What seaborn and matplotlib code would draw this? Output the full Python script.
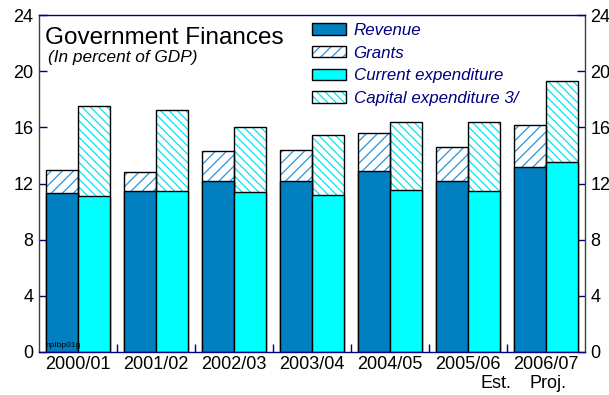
import matplotlib
matplotlib.use("Agg")
import matplotlib.pyplot as plt
import matplotlib.patches as mpatches
from matplotlib.ticker import FixedLocator
from matplotlib.legend_handler import HandlerTuple
import seaborn as sns
import pandas as pd

# Fiscal years and series, in percent of GDP
years = ["2000/01", "2001/02", "2002/03", "2003/04", "2004/05", "2005/06", "2006/07"]
revenue = [11.35, 11.5, 12.2, 12.15, 12.9, 12.2, 13.2]
grants = [1.6, 1.35, 2.1, 2.25, 2.7, 2.4, 3.0]
current_exp = [11.1, 11.5, 11.4, 11.2, 11.55, 11.5, 13.5]
capital_exp = [6.45, 5.7, 4.6, 4.25, 4.85, 4.85, 5.8]
y_ticks = [0, 4, 8, 12, 16, 20, 24]
year_notes = {5: "Est.", 6: "Proj."}

REV_COLOR = "#0080C0"
CUR_COLOR = "#00FFFF"
GRANT_HATCH = "#2A93D8"
CAP_HATCH = "#00E6F2"
NAVY = "#000080"

sns.set_theme(style="white")
plt.rcParams["font.family"] = ["Liberation Sans", "DejaVu Sans"]
plt.rcParams["hatch.linewidth"] = 0.9

sides = ["Receipts", "Outlays"]
df = pd.DataFrame({
    "year": years * 2,
    "side": [sides[0]] * len(years) + [sides[1]] * len(years),
    "base": revenue + current_exp,
    "total": [r + g for r, g in zip(revenue, grants)]
             + [c + k for c, k in zip(current_exp, capital_exp)],
})

fig = plt.figure(figsize=(6.09, 3.95), dpi=100)
ax = fig.add_axes([39 / 609, 43 / 395, 546 / 609, 337 / 395])

common = dict(data=df, x="year", hue="side", hue_order=sides, order=years,
              width=0.81, gap=0, errorbar=None, legend=False, ax=ax, saturation=1)

# Hatched upper segments (grants, capital expenditure): full stack height
sns.barplot(y="total", palette=["white", "white"], linewidth=0, **common)
for cont, hatch, hc in zip(ax.containers[:2], ["///", "\\\\\\\\"], [GRANT_HATCH, CAP_HATCH]):
    for bar in cont:
        bar.set_hatch(hatch)
        bar.set_edgecolor(hc)
        bar.set_linewidth(0)

# Black outline of the whole stack
sns.barplot(y="total", fill=False, edgecolor="black", linewidth=1.0, **common)

# Solid lower segments (revenue, current expenditure)
sns.barplot(y="base", palette=[REV_COLOR, CUR_COLOR], edgecolor="black",
            linewidth=1.0, **common)

ax.set_xlim(-0.5, len(years) - 0.5)
ax.set_ylim(0, 24)
ax.set_xlabel("")
ax.set_ylabel("")

# Axes frame and ticks
for side in ["top", "bottom"]:
    ax.spines[side].set_color(NAVY)
    ax.spines[side].set_linewidth(1.0)
for side in ["left", "right"]:
    ax.spines[side].set_color("#404040")
    ax.spines[side].set_linewidth(1.0)

ax.set_yticks(y_ticks)
ax.tick_params(axis="y", which="major", direction="in", length=6, width=1,
               color=NAVY, labelsize=13, labelcolor="black",
               left=True, right=True, labelleft=True, labelright=True, pad=4)
ax.tick_params(axis="x", which="major", length=0, labelsize=13,
               labelcolor="black", pad=3)
ax.xaxis.set_minor_locator(FixedLocator([i + 0.5 for i in range(len(years) - 1)]))
ax.tick_params(axis="x", which="minor", direction="in", length=6, width=1,
               color=NAVY, bottom=True)

# Second-line notes under the last years
for idx, note in year_notes.items():
    xpos = idx + (0.36 if note == "Est." else 0.03)
    ax.text(xpos, -0.068, note, transform=ax.get_xaxis_transform(),
            ha="center", va="top", fontsize=13, color="black")

# Title block
fig.text(45 / 609, 1 - 43.5 / 395, "Government Finances", fontsize=17.5,
         color="black", va="baseline", ha="left")
fig.text(48 / 609, 1 - 62 / 395, "(In percent of GDP)", fontsize=12.4,
         style="italic", color="black", va="baseline", ha="left")

# Chart code tag
ax.text(0.012, 0.008, "nplbp01g", transform=ax.transAxes, fontsize=6,
        color="black", ha="left", va="bottom")

# Legend with hatched swatches
def swatch(face, hatch=None, hcolor=None):
    if hatch:
        fill = mpatches.Patch(facecolor="white", edgecolor=hcolor, hatch=hatch, linewidth=0)
    else:
        fill = mpatches.Patch(facecolor=face, linewidth=0)
    outline = mpatches.Patch(facecolor="none", edgecolor="black", linewidth=1.0)
    return (fill, outline)

handles = [swatch(REV_COLOR), swatch(None, "///", GRANT_HATCH),
           swatch(CUR_COLOR), swatch(None, "\\\\\\\\", CAP_HATCH)]
labels = ["Revenue", "Grants", "Current expenditure", "Capital expenditure 3/"]
leg = fig.legend(handles, labels, handler_map={tuple: HandlerTuple(ndivide=1, pad=0)},
                 loc="upper left", bbox_to_anchor=(312 / 609, 1 - 23 / 395),
                 frameon=False, fontsize=12.2, handlelength=2.0, handleheight=0.65,
                 handletextpad=0.45, labelspacing=0.45, borderpad=0, borderaxespad=0)
for t in leg.get_texts():
    t.set_color(NAVY)
    t.set_style("italic")

fig.savefig("out.png", dpi=100)
